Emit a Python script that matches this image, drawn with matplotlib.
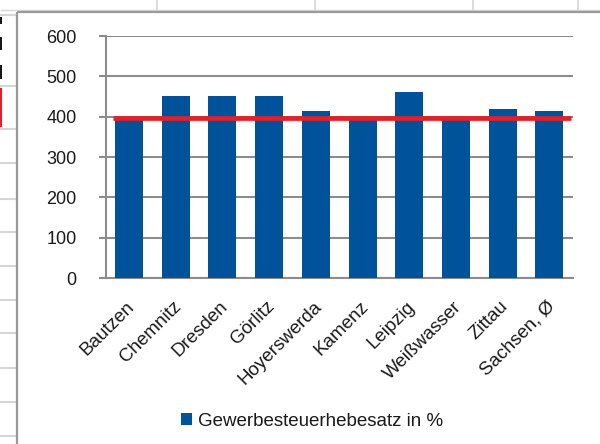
import matplotlib
matplotlib.use("Agg")
import matplotlib.pyplot as plt
from matplotlib.lines import Line2D
from matplotlib.patches import Patch
from matplotlib.transforms import ScaledTranslation
import numpy as np

# Gewerbesteuerhebesätze sächsischer Städte
cities = ["Bautzen", "Chemnitz", "Dresden", "Görlitz", "Hoyerswerda",
          "Kamenz", "Leipzig", "Weißwasser", "Zittau", "Sachsen, Ø"]
hebesatz = [400, 450, 450, 450, 415, 400, 460, 400, 420, 415]
reference_level = 396
y_ticks = [0, 100, 200, 300, 400, 500, 600]
series_name = "Gewerbesteuerhebesatz in %"

W, H = 600, 444
plt.rcParams["font.family"] = ["Liberation Sans", "DejaVu Sans"]

fig = plt.figure(figsize=(W / 100, H / 100), dpi=100)
fig.patch.set_facecolor("white")


def px_line(x0, y0, x1, y1, color, lw):
    fig.add_artist(Line2D([x0 / W, x1 / W], [1 - y0 / H, 1 - y1 / H],
                          transform=fig.transFigure, color=color, lw=lw,
                          solid_capstyle="butt"))


# spreadsheet cells behind the chart object
cell_grey = "#d6d6d6"
for x in [157, 315, 473, 578]:
    px_line(x, 0, x, 10, cell_grey, 1.2)
px_line(0, 10.5, 600, 10.5, cell_grey, 1.0)
for y in [15, 86, 129, 163, 199, 232, 266, 300, 333, 368, 402, 436]:
    px_line(0, y, 16, y, cell_grey, 1.5)
for y0, y1 in [(17, 24), (37, 50), (65, 79)]:
    px_line(0.8, y0, 0.8, y1, "black", 1.3)
px_line(0.8, 88, 0.8, 127, "#e0202a", 1.5)

# chart object border
frame = "#9a9a9a"
px_line(16.5, 12, 16.5, 444, frame, 1.6)
px_line(16.5, 12, 600, 12, frame, 1.6)

# plot area
left, right = 105.7 / W, 572.7 / W
bottom, top = 1 - 278 / H, 1 - 36 / H
ax = fig.add_axes([left, bottom, right - left, top - bottom])
ax.set_facecolor("white")

x = np.arange(len(cities))
bar_color = "#00529B"
ax.bar(x, hebesatz, width=0.6, color=bar_color, zorder=3)

ax.set_xlim(-0.5, len(cities) - 0.5)
ax.set_ylim(0, 600)
ax.set_yticks(y_ticks)
ax.yaxis.grid(True, color="#8c8c8c", lw=1.5, zorder=0)
ax.set_axisbelow(True)

# red reference line across the plot area
ax.plot([-0.35, len(cities) - 0.543], [reference_level, reference_level],
        color="#e0202a", lw=3.4, solid_capstyle="butt", zorder=4)

for s in ["top", "right"]:
    ax.spines[s].set_visible(False)
ax.spines["left"].set_color("#8c8c8c")
ax.spines["left"].set_linewidth(1.5)
ax.spines["bottom"].set_color("#8c8c8c")
ax.spines["bottom"].set_linewidth(1.5)

ax.tick_params(axis="y", length=5, width=1.5, color="#8c8c8c", pad=16,
               labelsize=13, labelcolor="#1a1a1a")
ax.tick_params(axis="x", length=0, pad=8, labelsize=13.5, labelcolor="#1a1a1a")
ax.set_xticks(x)
ax.set_xticklabels(cities, rotation=45, ha="right", va="top",
                   rotation_mode="anchor")
shift = ScaledTranslation(-3 / 100, -9 / 100, fig.dpi_scale_trans)
for lbl in ax.get_xticklabels():
    lbl.set_transform(lbl.get_transform() + shift)

# legend below the chart
handle = Patch(facecolor=bar_color, edgecolor="none")
fig.legend([handle], [series_name], loc="center",
           bbox_to_anchor=(312 / W, 1 - 421 / H), frameon=False,
           fontsize=13.5, handlelength=0.6, handleheight=0.6,
           handletextpad=0.35, labelcolor="#1a1a1a")

fig.savefig("out.png", dpi=100, facecolor="white")
